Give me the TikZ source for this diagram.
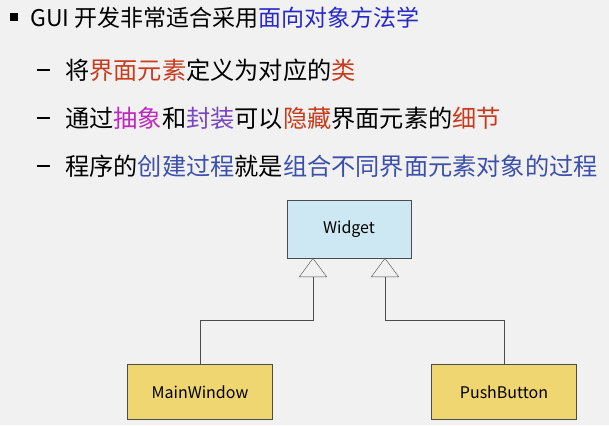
\documentclass[tikz,border=0pt]{standalone}
\usepackage{fontspec}
\setmainfont{Noto Sans CJK SC}
\usetikzlibrary{arrows.meta}
\definecolor{bgc}{RGB}{241,241,241}
\definecolor{redc}{RGB}{200,60,30}
\definecolor{bluec}{RGB}{40,40,200}
\definecolor{magc}{RGB}{190,40,190}
\definecolor{purc}{RGB}{120,70,190}
\definecolor{slatec}{RGB}{60,80,170}
\definecolor{boxblue}{RGB}{205,232,242}
\definecolor{boxyel}{RGB}{240,214,112}
\begin{document}
\begin{tikzpicture}[x=1pt,y=-1pt,
    line1/.style={anchor=west, inner sep=0pt, font=\fontsize{23}{26}\selectfont},
    line2/.style={anchor=west, inner sep=0pt, font=\fontsize{24.2}{27}\selectfont},
    classbox/.style={draw=black!70, rectangle, minimum width=124pt, minimum height=58pt, font=\fontsize{16}{18}\selectfont},
    inherit/.style={draw=black!70, -{Triangle[open, length=19pt, width=28pt]}}
]
\fill[bgc] (0,0) rectangle (609,425);
\useasboundingbox (0,0) rectangle (609,425);

% bullets
\fill (10,13) rectangle (18,21);
\node[line1] (l1) at (30,18) {GUI 开发非常适合采用\textcolor{bluec}{面向对象方法学}};
\foreach \yy in {70,118,166}
  \fill (37,\yy-1.2) rectangle (50,\yy+1.2);
\node[line2] (l2) at (65,70) {将\textcolor{redc}{界面元素}定义为对应的\textcolor{redc}{类}};
\node[line2] (l3) at (65,118) {通过\textcolor{magc}{抽象}和\textcolor{purc}{封装}可以\textcolor{redc}{隐藏}界面元素的\textcolor{redc}{细节}};
\node[line2] (l4) at (65,166) {程序的\textcolor{slatec}{创建过程}就是\textcolor{slatec}{组合不同界面元素对象的过程}};

% classes
\node[classbox, fill=boxblue] (widget) at (349,229) {Widget};
\node[classbox, fill=boxyel, minimum width=145pt, minimum height=55pt] (mainwin) at (200,392) {MainWindow};
\node[classbox, fill=boxyel, minimum width=145pt, minimum height=55pt] (pushbtn) at (504,392) {PushButton};

\coordinate (t1) at (313,258);
\coordinate (t2) at (385,258);
\draw[inherit] (mainwin.north) |- (313,320) -- (t1);
\draw[inherit] (pushbtn.north) |- (385,320) -- (t2);
\end{tikzpicture}
\end{document}
